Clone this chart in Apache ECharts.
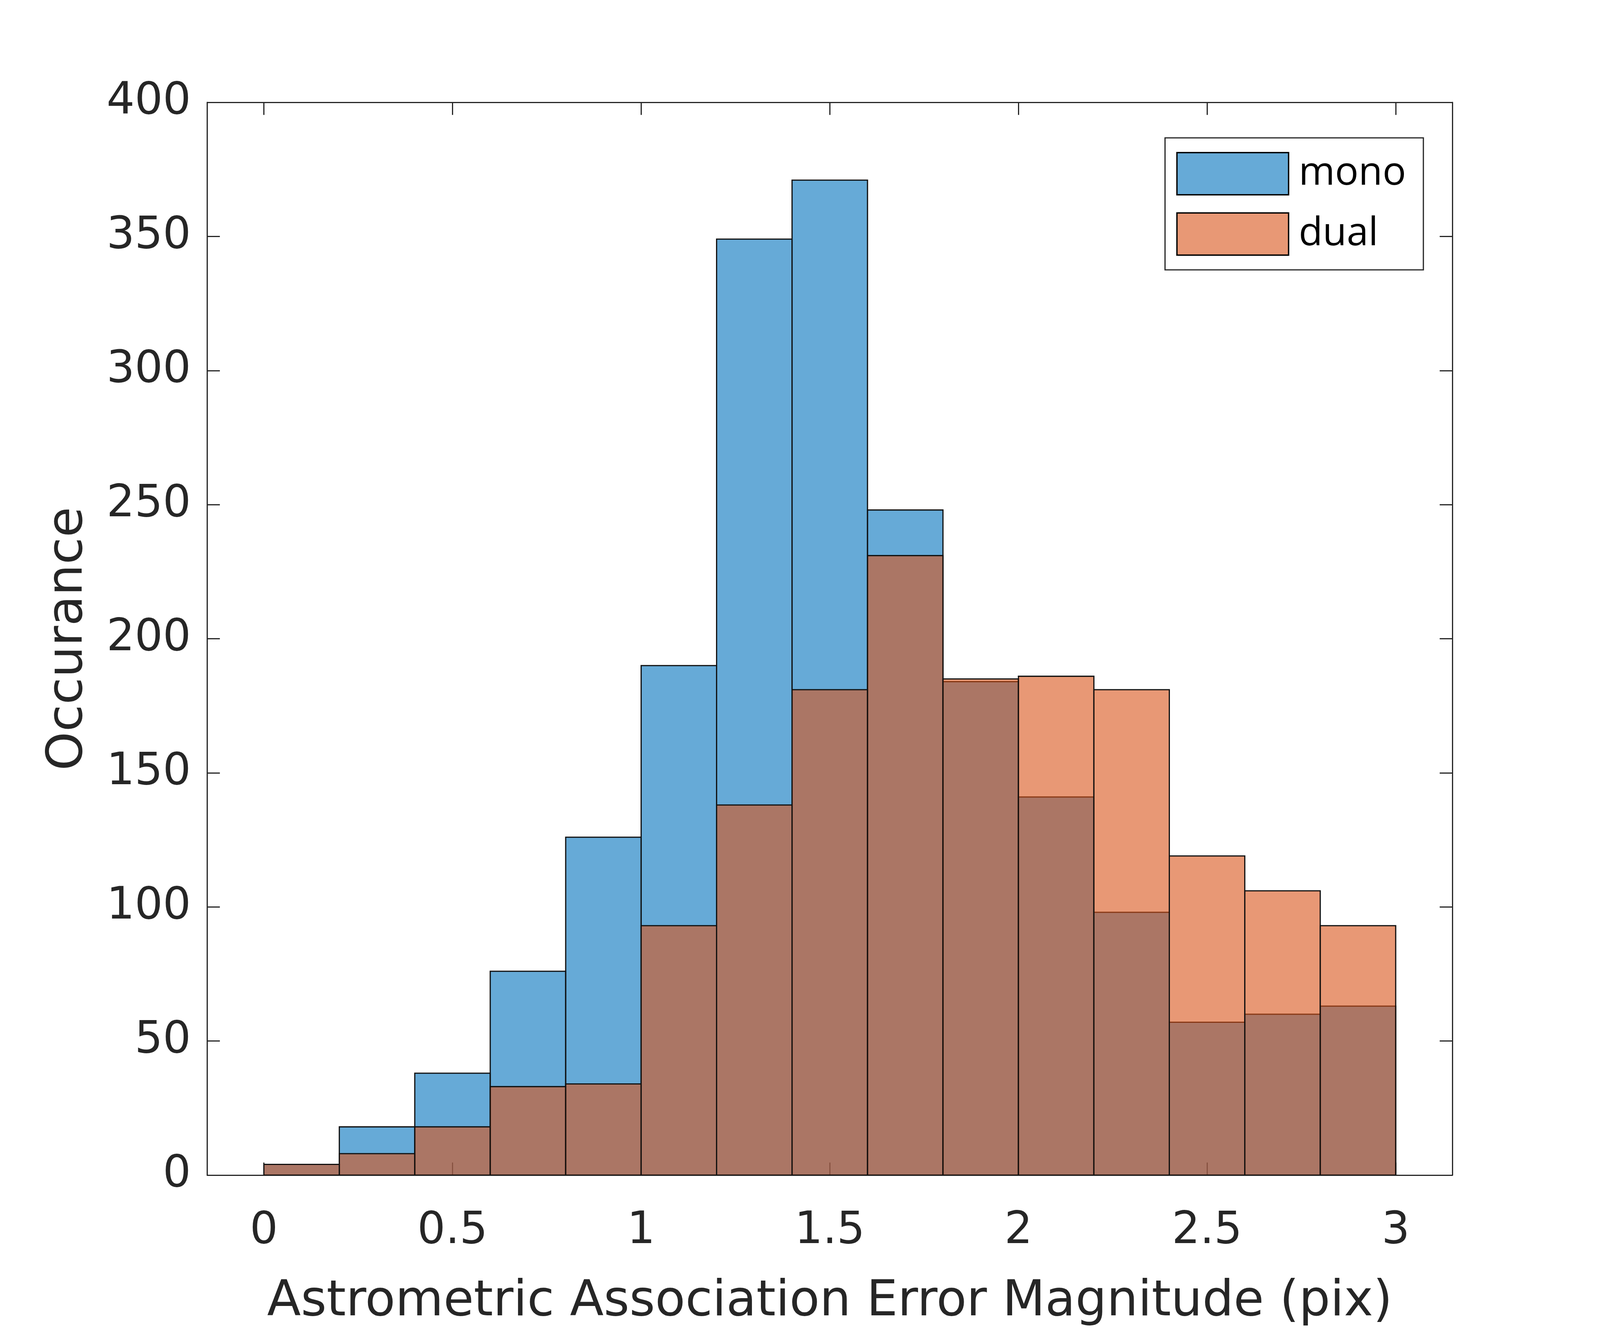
<!DOCTYPE html>
<html>
<head>
<meta charset="utf-8">
<script src="https://cdn.jsdelivr.net/npm/echarts@6/dist/echarts.min.js"></script>
<style>
  html, body { margin: 0; padding: 0; background: #fff; overflow: hidden; }
  #chart { width: 100vw; height: 100vh; }
</style>
</head>
<body>
<div id="chart"></div>
<script>
const binEdges = [0, 0.2, 0.4, 0.6, 0.8, 1.0, 1.2, 1.4, 1.6, 1.8, 2.0, 2.2, 2.4, 2.6, 2.8, 3.0]
const monoCounts = [4, 18, 38, 76, 126, 190, 349, 371, 248, 184, 141, 98, 57, 60, 63]
const dualCounts = [4, 8, 18, 33, 34, 93, 138, 181, 231, 185, 186, 181, 119, 106, 93]
const xTicks = [0, 0.5, 1, 1.5, 2, 2.5, 3]

const AXIS_COLOR = '#262626'
const AXIS_FONT = 'DejaVu Sans'
const MONO_FILL = 'rgba(0,114,189,0.6)'
const DUAL_FILL = 'rgba(217,83,25,0.6)'

// layout was measured on a 4701x3403 canvas, scale it to whatever window we get
const W = window.innerWidth
const H = window.innerHeight
const sx = W / 4701
const sy = H / 3403
const s = Math.min(sx, sy)

function toBins (counts) {
  return counts.map((c, i) => [binEdges[i], binEdges[i + 1], c])
}

function histSeries (name, counts, fill) {
  return {
    name: name,
    type: 'custom',
    itemStyle: { color: fill, borderColor: '#000', borderWidth: 4 * s },
    encode: { x: [0, 1], y: 2 },
    data: toBins(counts),
    clip: true,
    renderItem: function (params, api) {
      const p0 = api.coord([api.value(0), api.value(2)])
      const p1 = api.coord([api.value(1), 0])
      return {
        type: 'rect',
        shape: { x: p0[0], y: p0[1], width: p1[0] - p0[0], height: p1[1] - p0[1] },
        style: { fill: fill, stroke: '#111', lineWidth: 3.5 * s }
      }
    }
  }
}

const boxLine = { show: true, onZero: false, lineStyle: { color: AXIS_COLOR, width: 3.5 * s } }
const tickIn = { show: true, inside: true, length: 37 * s, lineStyle: { color: AXIS_COLOR, width: 3.5 * s } }

const chart = echarts.init(document.getElementById('chart'), null, { renderer: 'canvas' })
chart.setOption({
  backgroundColor: '#fff',
  animation: false,
  grid: { left: 609 * sx, right: 434 * sx, top: 262 * sy, bottom: 371 * sy },
  legend: {
    orient: 'vertical',
    left: 3423 * sx,
    top: 353 * sy,
    padding: [36 * sy, 51 * sx, 36 * sy, 33 * sx],
    itemGap: 43 * sy,
    itemWidth: 328 * sx,
    itemHeight: 108 * sy,
    icon: 'rect',
    borderColor: AXIS_COLOR,
    borderWidth: 3.5 * s,
    backgroundColor: '#fff',
    itemStyle: { borderColor: '#000', borderWidth: 4 * s },
    textStyle: { fontFamily: 'Open Sans', fontSize: 115 * s, color: '#000', padding: [0, 0, 0, 24 * sx] },
    data: ['mono', 'dual']
  },
  xAxis: [{
    type: 'value',
    min: -0.15,
    max: 3.15,
    position: 'bottom',
    splitLine: { show: false },
    axisLine: boxLine,
    axisTick: Object.assign({ customValues: xTicks }, tickIn),
    axisLabel: {
      customValues: xTicks,
      margin: 88 * sy,
      fontFamily: AXIS_FONT,
      fontSize: 130 * s,
      color: AXIS_COLOR
    },
    name: 'Astrometric Association Error Magnitude (pix)',
    nameLocation: 'middle',
    nameGap: 263 * sy,
    nameTextStyle: { fontFamily: AXIS_FONT, fontSize: 145 * s, color: AXIS_COLOR }
  }, {
    type: 'value',
    min: -0.15,
    max: 3.15,
    position: 'top',
    splitLine: { show: false },
    axisLine: boxLine,
    axisTick: Object.assign({ customValues: xTicks }, tickIn),
    axisLabel: { show: false }
  }],
  yAxis: [{
    type: 'value',
    min: 0,
    max: 400,
    interval: 50,
    position: 'left',
    splitLine: { show: false },
    axisLine: boxLine,
    axisTick: tickIn,
    axisLabel: { margin: 48 * sx, fontFamily: AXIS_FONT, fontSize: 130 * s, color: AXIS_COLOR },
    name: 'Occurance',
    nameLocation: 'middle',
    nameGap: 335 * sx,
    nameTextStyle: { fontFamily: AXIS_FONT, fontSize: 145 * s, color: AXIS_COLOR }
  }, {
    type: 'value',
    min: 0,
    max: 400,
    interval: 50,
    position: 'right',
    splitLine: { show: false },
    axisLine: boxLine,
    axisTick: tickIn,
    axisLabel: { show: false }
  }],
  series: [
    histSeries('mono', monoCounts, MONO_FILL),
    histSeries('dual', dualCounts, DUAL_FILL)
  ]
})
</script>
</body>
</html>
